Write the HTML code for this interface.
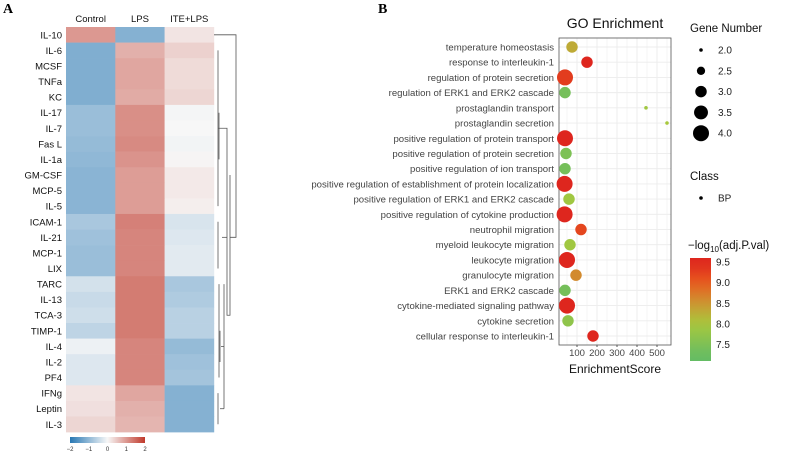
<!DOCTYPE html>
<html><head><meta charset="utf-8">
<style>
html,body{margin:0;padding:0;background:#fff;}
svg{display:block;font-family:"Liberation Sans",Arial,sans-serif;}
</style></head>
<body>
<svg id="fig" width="788" height="452" viewBox="0 0 788 452" xmlns="http://www.w3.org/2000/svg">
<text x="3" y="13" font-family="Liberation Serif,serif" font-weight="bold" font-size="14">A</text>
<text x="378" y="13" font-family="Liberation Serif,serif" font-weight="bold" font-size="14">B</text>
<g id="heat"></g>
<g id="dendro" stroke="#555" stroke-width="0.8" fill="none"></g>
<g id="cbar"></g>
<g id="go"></g>
</svg>
<script>
const NS="http://www.w3.org/2000/svg";
const heatRows=["IL-10","IL-6","MCSF","TNFa","KC","IL-17","IL-7","Fas L","IL-1a","GM-CSF","MCP-5","IL-5","ICAM-1","IL-21","MCP-1","LIX","TARC","IL-13","TCA-3","TIMP-1","IL-4","IL-2","PF4","IFNg","Leptin","IL-3"];
const heatCols=["Control","LPS","ITE+LPS"];
const controlVals=[1.0,-1.15,-1.15,-1.15,-1.15,-0.9,-0.9,-0.95,-1.0,-1.05,-1.05,-1.05,-0.75,-0.85,-0.9,-0.9,-0.35,-0.45,-0.4,-0.55,-0.1,-0.25,-0.25,0.2,0.25,0.35];
const lpsVals=[-1.1,0.75,0.85,0.85,0.8,1.1,1.1,1.15,1.05,0.95,0.95,0.95,1.25,1.2,1.2,1.2,1.3,1.3,1.3,1.3,1.2,1.2,1.2,0.85,0.75,0.7];
const iteVals=[0.2,0.4,0.3,0.3,0.35,-0.03,0,-0.05,0.03,0.15,0.15,0.1,-0.3,-0.25,-0.2,-0.2,-0.75,-0.7,-0.6,-0.6,-0.95,-0.85,-0.8,-1.1,-1.1,-1.1];
const cbarTicks=[-2,-1,0,1,2];

const goTerms=["temperature homeostasis","response to interleukin-1","regulation of protein secretion","regulation of ERK1 and ERK2 cascade","prostaglandin transport","prostaglandin secretion","positive regulation of protein transport","positive regulation of protein secretion","positive regulation of ion transport","positive regulation of establishment of protein localization","positive regulation of ERK1 and ERK2 cascade","positive regulation of cytokine production","neutrophil migration","myeloid leukocyte migration","leukocyte migration","granulocyte migration","ERK1 and ERK2 cascade","cytokine-mediated signaling pathway","cytokine secretion","cellular response to interleukin-1"];
const goScores=[75,150,40,40,445,550,40,45,40,38,60,38,120,65,50,95,40,50,55,180];
const goGenes=[3,3,4,3,2,2,4,3,3,4,3,4,3,3,4,3,3,4,3,3];
const goPval=[8.3,9.5,9.3,7.4,7.9,8.0,9.6,7.5,7.4,9.6,7.9,9.6,9.2,7.9,9.6,8.6,7.4,9.6,7.7,9.6];
const xTicks=[100,200,300,400,500];
const sizeTicks=[2.0,2.5,3.0,3.5,4.0];
const pTicks=[9.5,9.0,8.5,8.0,7.5];

function mk(tag,attrs,parent){const e=document.createElementNS(NS,tag);for(const k in attrs)e.setAttribute(k,attrs[k]);parent.appendChild(e);return e;}
function lerp(a,b,t){return Math.round(a+(b-a)*t);}
function heatColor(v){
  const w=[247,247,247],b=[40,120,180],r=[192,57,43];
  const t=Math.min(1,Math.abs(v)/2),e=v<0?b:r;
  return `rgb(${lerp(w[0],e[0],t)},${lerp(w[1],e[1],t)},${lerp(w[2],e[2],t)})`;
}
// heatmap
const heat=document.getElementById('heat');
const hx0=66,cw=49.3,hy0=27,rh=15.58;
const colVals=[controlVals,lpsVals,iteVals];
heatCols.forEach((c,j)=>{
  const t=mk('text',{x:hx0+cw*j+cw/2,y:22,'text-anchor':'middle','font-size':'9.5',fill:'#111'},heat);
  t.textContent=c;
  
  
});
heatRows.forEach((r,i)=>{
  const t=mk('text',{x:62,y:hy0+rh*i+rh/2+3.5,'text-anchor':'end','font-size':'9.5',fill:'#111'},heat);
  t.textContent=r;
  
  
  colVals.forEach((arr,j)=>{
    const c=mk('rect',{x:hx0+cw*j,y:hy0+rh*i,width:cw+0.3,height:rh+0.3,fill:heatColor(arr[i])},heat);
    
    
  });
});
// dendrogram (approximate)
const dd=document.getElementById('dendro');
const yc=i=>hy0+rh*i+rh/2;
[["M214,"+yc(0)+"H236V"+((yc(1)+yc(25))/2)+"H230"],
 ["M218,"+yc(1)+"V"+yc(11)],["M219,"+yc(5)+"V"+yc(8)],
 ["M218,"+yc(6)+"H227V"+yc(18)+"H230V"+yc(9)],
 ["M218,"+yc(12)+"V"+yc(15)],["M219,"+yc(16)+"V"+yc(22)],["M220,"+yc(19)+"V"+yc(21)],
 ["M218,"+yc(23)+"V"+yc(25)],["M224,"+yc(16)+"V"+yc(24)],["M222,"+yc(13)+"H227"],["M221,"+yc(20)+"H224"],["M220,"+yc(24)+"H224"]
].forEach(p=>{const e=mk('path',{d:p[0]},dd);});
// colorbar
const cb=document.getElementById('cbar');
const cbx0=70,cbx1=145;
const grad=mk('linearGradient',{id:'hg',x1:'0',x2:'1',y1:'0',y2:'0'},mk('defs',{},cb));
[-2,-1,0,1,2].forEach(v=>mk('stop',{offset:(v+2)/4,'stop-color':heatColor(v)},grad));
const cr=mk('rect',{x:cbx0,y:437,width:cbx1-cbx0,height:6,fill:'url(#hg)'},cb);


cbarTicks.forEach(v=>{
  const x=cbx0+(v+2)/4*(cbx1-cbx0);
  const t=mk('text',{x:x,y:451,'text-anchor':'middle','font-size':'6',fill:'#333'},cb);
  t.textContent=v===0?'0':(v<0?'\u2212'+(-v):String(v));
  
  
});
// GO chart
const go=document.getElementById('go');
const px0=559,px1=671,py0=38,py1=345;
const xs=v=>557+v*0.2;
const ys=i=>47+i*(336-47)/19;
const rs=g=>8*Math.sqrt(Math.max(0.05,(g-1.95)/2.05));
function pColor(p){
  const stops=[[7.2,[100,188,100]],[8.0,[168,200,60]],[8.5,[205,150,50]],[9.0,[232,92,30]],[9.5,[222,38,30]]];
  if(p<=stops[0][0])return `rgb(${stops[0][1]})`;
  for(let k=1;k<stops.length;k++){if(p<=stops[k][0]){const t=(p-stops[k-1][0])/(stops[k][0]-stops[k-1][0]);const a=stops[k-1][1],b=stops[k][1];return `rgb(${lerp(a[0],b[0],t)},${lerp(a[1],b[1],t)},${lerp(a[2],b[2],t)})`;}}
  return `rgb(${stops[4][1]})`;
}
const title=mk('text',{x:615,y:28,'text-anchor':'middle','font-size':'14',fill:'#111'},go);
title.textContent='GO Enrichment';


// minor & major grid
for(let v=50;v<=550;v+=50){const x=xs(v);if(x>px0&&x<px1){const l=mk('line',{x1:x,x2:x,y1:py0,y2:py1,stroke:'#ececec','stroke-width':v%100?0.5:0.9},go);}}
goTerms.forEach((g,i)=>{const l=mk('line',{x1:px0,x2:px1,y1:ys(i),y2:ys(i),stroke:'#ececec','stroke-width':0.9},go);});
const frame=mk('rect',{x:px0,y:py0,width:px1-px0,height:py1-py0,fill:'none',stroke:'#555','stroke-width':0.8},go);


goTerms.forEach((g,i)=>{
  const t=mk('text',{x:554,y:ys(i)+3.5,'text-anchor':'end','font-size':'9.6',fill:'#444'},go);
  t.textContent=g;
  
  
  const c=mk('circle',{cx:xs(goScores[i]),cy:ys(i),r:rs(goGenes[i]),fill:pColor(goPval[i])},go);
  
  
});
xTicks.forEach(v=>{
  mk('line',{x1:xs(v),x2:xs(v),y1:py1,y2:py1+2,stroke:'#555'},go);
  const t=mk('text',{x:xs(v),y:356,'text-anchor':'middle','font-size':'9.5',fill:'#444'},go);
  t.textContent=v;
  
  
});
const xt=mk('text',{x:615,y:373,'text-anchor':'middle','font-size':'12',fill:'#111'},go);
xt.textContent='EnrichmentScore';


// legends
const lg1=mk('text',{x:690,y:32,'font-size':'11.5',fill:'#111'},go);
lg1.textContent='Gene Number';


sizeTicks.forEach((s,k)=>{
  const y=50+k*20.8;
  const c=mk('circle',{cx:701,cy:y,r:rs(s),fill:'#000'},go);
  
  
  const t=mk('text',{x:718,y:y+3.5,'font-size':'10',fill:'#222'},go);
  t.textContent=s.toFixed(1);
  
  
});
const lg2=mk('text',{x:690,y:180,'font-size':'11.5',fill:'#111'},go);
lg2.textContent='Class';


const bpd=mk('circle',{cx:701,cy:198,r:1.8,fill:'#000'},go);


const bpt=mk('text',{x:718,y:201.5,'font-size':'10',fill:'#222'},go);
bpt.textContent='BP';


const lg3=mk('text',{x:688,y:249,'font-size':'11.5',fill:'#111'},go);
lg3.innerHTML='\u2212log<tspan font-size="8" dy="3">10</tspan><tspan dy="-3">(adj.P.val)</tspan>';


const pmin=7.1,pmax=9.6,cy0=258,cy1=361;
const pys=p=>cy1-(p-pmin)/(pmax-pmin)*(cy1-cy0);
const g2=mk('linearGradient',{id:'pg',x1:'0',x2:'0',y1:'1',y2:'0'},mk('defs',{},go));
for(let k=0;k<=10;k++){const p=pmin+(pmax-pmin)*k/10;mk('stop',{offset:k/10,'stop-color':pColor(p)},g2);}
const pr=mk('rect',{x:690,y:cy0,width:21,height:cy1-cy0,fill:'url(#pg)'},go);


pTicks.forEach(p=>{
  const t=mk('text',{x:716,y:pys(p)+3.5,'font-size':'10',fill:'#222'},go);
  t.textContent=p.toFixed(1);
  
  
});
</script>
</body></html>
